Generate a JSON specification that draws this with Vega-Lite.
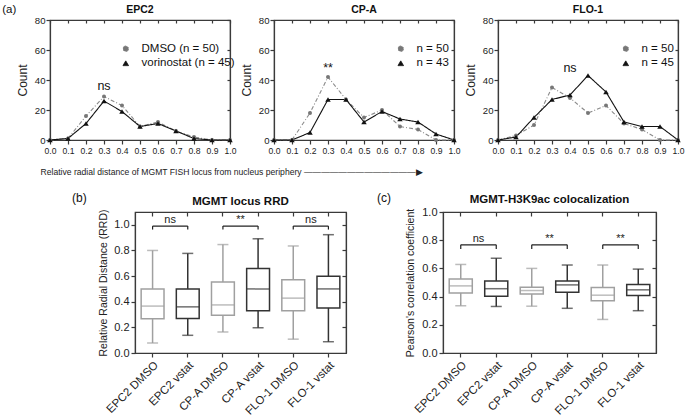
{
  "$schema": "https://vega.github.io/schema/vega-lite/v6.json",
  "padding": {"left": 2, "top": 3, "right": 2, "bottom": 2},
  "config": {
    "font": "Liberation Sans",
    "view": {"stroke": "#3a3a3a", "strokeWidth": 1.2},
    "axis": {"grid": false, "domainColor": "#3a3a3a", "domainWidth": 1.2, "tickColor": "#3a3a3a", "tickWidth": 1.2, "tickSize": 4, "labelColor": "#222", "titleColor": "#222", "titleFontWeight": "normal", "labelOverlap": false},
    "legend": {"title": null, "orient": "none", "legendY": 23, "labelFontSize": 11.5, "labelColor": "#111", "labelOffset": 10, "rowPadding": 1.5, "padding": 0, "symbolStrokeWidth": 1, "symbolSize": 30},
    "title": {"fontWeight": "bold", "color": "#111"}
  },
  "datasets": {
    "hist": [
      {"cell": "EPC2", "series": "DMSO (n = 50)", "x": 0.0, "count": 0},
      {"cell": "EPC2", "series": "DMSO (n = 50)", "x": 0.1, "count": 1},
      {"cell": "EPC2", "series": "DMSO (n = 50)", "x": 0.2, "count": 16},
      {"cell": "EPC2", "series": "DMSO (n = 50)", "x": 0.3, "count": 29},
      {"cell": "EPC2", "series": "DMSO (n = 50)", "x": 0.4, "count": 23},
      {"cell": "EPC2", "series": "DMSO (n = 50)", "x": 0.5, "count": 9},
      {"cell": "EPC2", "series": "DMSO (n = 50)", "x": 0.6, "count": 12},
      {"cell": "EPC2", "series": "DMSO (n = 50)", "x": 0.7, "count": 6},
      {"cell": "EPC2", "series": "DMSO (n = 50)", "x": 0.8, "count": 2},
      {"cell": "EPC2", "series": "DMSO (n = 50)", "x": 0.9, "count": 0},
      {"cell": "EPC2", "series": "DMSO (n = 50)", "x": 1.0, "count": 0},
      {"cell": "EPC2", "series": "vorinostat (n = 45)", "x": 0.0, "count": 0},
      {"cell": "EPC2", "series": "vorinostat (n = 45)", "x": 0.1, "count": 1},
      {"cell": "EPC2", "series": "vorinostat (n = 45)", "x": 0.2, "count": 11},
      {"cell": "EPC2", "series": "vorinostat (n = 45)", "x": 0.3, "count": 26},
      {"cell": "EPC2", "series": "vorinostat (n = 45)", "x": 0.4, "count": 19},
      {"cell": "EPC2", "series": "vorinostat (n = 45)", "x": 0.5, "count": 9},
      {"cell": "EPC2", "series": "vorinostat (n = 45)", "x": 0.6, "count": 11},
      {"cell": "EPC2", "series": "vorinostat (n = 45)", "x": 0.7, "count": 6},
      {"cell": "EPC2", "series": "vorinostat (n = 45)", "x": 0.8, "count": 1},
      {"cell": "EPC2", "series": "vorinostat (n = 45)", "x": 0.9, "count": 0},
      {"cell": "EPC2", "series": "vorinostat (n = 45)", "x": 1.0, "count": 0},
      {"cell": "CP-A", "series": "n = 50", "x": 0.0, "count": 0},
      {"cell": "CP-A", "series": "n = 50", "x": 0.1, "count": 0},
      {"cell": "CP-A", "series": "n = 50", "x": 0.2, "count": 18},
      {"cell": "CP-A", "series": "n = 50", "x": 0.3, "count": 42},
      {"cell": "CP-A", "series": "n = 50", "x": 0.4, "count": 27},
      {"cell": "CP-A", "series": "n = 50", "x": 0.5, "count": 15},
      {"cell": "CP-A", "series": "n = 50", "x": 0.6, "count": 20},
      {"cell": "CP-A", "series": "n = 50", "x": 0.7, "count": 9},
      {"cell": "CP-A", "series": "n = 50", "x": 0.8, "count": 7},
      {"cell": "CP-A", "series": "n = 50", "x": 0.9, "count": 0},
      {"cell": "CP-A", "series": "n = 50", "x": 1.0, "count": 0},
      {"cell": "CP-A", "series": "n = 43", "x": 0.0, "count": 0},
      {"cell": "CP-A", "series": "n = 43", "x": 0.1, "count": 0},
      {"cell": "CP-A", "series": "n = 43", "x": 0.2, "count": 5},
      {"cell": "CP-A", "series": "n = 43", "x": 0.3, "count": 27},
      {"cell": "CP-A", "series": "n = 43", "x": 0.4, "count": 27},
      {"cell": "CP-A", "series": "n = 43", "x": 0.5, "count": 12},
      {"cell": "CP-A", "series": "n = 43", "x": 0.6, "count": 19},
      {"cell": "CP-A", "series": "n = 43", "x": 0.7, "count": 14},
      {"cell": "CP-A", "series": "n = 43", "x": 0.8, "count": 12},
      {"cell": "CP-A", "series": "n = 43", "x": 0.9, "count": 4},
      {"cell": "CP-A", "series": "n = 43", "x": 1.0, "count": 0},
      {"cell": "FLO-1", "series": "n = 50", "x": 0.0, "count": 0},
      {"cell": "FLO-1", "series": "n = 50", "x": 0.1, "count": 3},
      {"cell": "FLO-1", "series": "n = 50", "x": 0.2, "count": 10},
      {"cell": "FLO-1", "series": "n = 50", "x": 0.3, "count": 35},
      {"cell": "FLO-1", "series": "n = 50", "x": 0.4, "count": 28},
      {"cell": "FLO-1", "series": "n = 50", "x": 0.5, "count": 18},
      {"cell": "FLO-1", "series": "n = 50", "x": 0.6, "count": 23},
      {"cell": "FLO-1", "series": "n = 50", "x": 0.7, "count": 11},
      {"cell": "FLO-1", "series": "n = 50", "x": 0.8, "count": 7},
      {"cell": "FLO-1", "series": "n = 50", "x": 0.9, "count": 0},
      {"cell": "FLO-1", "series": "n = 50", "x": 1.0, "count": 0},
      {"cell": "FLO-1", "series": "n = 45", "x": 0.0, "count": 0},
      {"cell": "FLO-1", "series": "n = 45", "x": 0.1, "count": 2},
      {"cell": "FLO-1", "series": "n = 45", "x": 0.2, "count": 15},
      {"cell": "FLO-1", "series": "n = 45", "x": 0.3, "count": 27},
      {"cell": "FLO-1", "series": "n = 45", "x": 0.4, "count": 30},
      {"cell": "FLO-1", "series": "n = 45", "x": 0.5, "count": 43},
      {"cell": "FLO-1", "series": "n = 45", "x": 0.6, "count": 32},
      {"cell": "FLO-1", "series": "n = 45", "x": 0.7, "count": 12},
      {"cell": "FLO-1", "series": "n = 45", "x": 0.8, "count": 9},
      {"cell": "FLO-1", "series": "n = 45", "x": 0.9, "count": 9},
      {"cell": "FLO-1", "series": "n = 45", "x": 1.0, "count": 0}
    ],
    "notes": [
      {"cell": "EPC2", "x": 0.3, "y": 36, "label": "ns"},
      {"cell": "CP-A", "x": 0.3, "y": 48, "label": "**"},
      {"cell": "FLO-1", "x": 0.4, "y": 48, "label": "ns"}
    ],
    "rrd": [
      {"group": "EPC2 DMSO", "type": "DMSO", "min": 0.078, "q1": 0.268, "median": 0.366, "q3": 0.5, "max": 0.8},
      {"group": "EPC2 vstat", "type": "vstat", "min": 0.138, "q1": 0.27, "median": 0.36, "q3": 0.5, "max": 0.777},
      {"group": "CP-A DMSO", "type": "DMSO", "min": 0.164, "q1": 0.295, "median": 0.375, "q3": 0.553, "max": 0.846},
      {"group": "CP-A vstat", "type": "vstat", "min": 0.197, "q1": 0.33, "median": 0.5, "q3": 0.659, "max": 0.891},
      {"group": "FLO-1 DMSO", "type": "DMSO", "min": 0.108, "q1": 0.33, "median": 0.428, "q3": 0.571, "max": 0.835},
      {"group": "FLO-1 vstat", "type": "vstat", "min": 0.088, "q1": 0.352, "median": 0.5, "q3": 0.598, "max": 0.923}
    ],
    "pcc": [
      {"group": "EPC2 DMSO", "type": "DMSO", "min": 0.335, "q1": 0.426, "median": 0.476, "q3": 0.525, "max": 0.628},
      {"group": "EPC2 vstat", "type": "vstat", "min": 0.33, "q1": 0.402, "median": 0.456, "q3": 0.51, "max": 0.672},
      {"group": "CP-A DMSO", "type": "DMSO", "min": 0.332, "q1": 0.419, "median": 0.443, "q3": 0.467, "max": 0.6},
      {"group": "CP-A vstat", "type": "vstat", "min": 0.317, "q1": 0.431, "median": 0.483, "q3": 0.51, "max": 0.624},
      {"group": "FLO-1 DMSO", "type": "DMSO", "min": 0.238, "q1": 0.371, "median": 0.41, "q3": 0.464, "max": 0.624},
      {"group": "FLO-1 vstat", "type": "vstat", "min": 0.3, "q1": 0.407, "median": 0.448, "q3": 0.486, "max": 0.595}
    ],
    "brk": [
      {"panel": "rrd", "g1": "EPC2 DMSO", "g2": "EPC2 vstat", "label": "ns"},
      {"panel": "rrd", "g1": "CP-A DMSO", "g2": "CP-A vstat", "label": "**"},
      {"panel": "rrd", "g1": "FLO-1 DMSO", "g2": "FLO-1 vstat", "label": "ns"},
      {"panel": "pcc", "g1": "EPC2 DMSO", "g2": "EPC2 vstat", "label": "ns"},
      {"panel": "pcc", "g1": "CP-A DMSO", "g2": "CP-A vstat", "label": "**"},
      {"panel": "pcc", "g1": "FLO-1 DMSO", "g2": "FLO-1 vstat", "label": "**"}
    ]
  },
  "vconcat": [
    {
      "hconcat": [
        {
          "width": 2, "height": 120,
          "view": {"stroke": null},
          "title": {"text": "(a)", "anchor": "start", "fontWeight": "normal", "fontSize": 11.5, "offset": 5},
          "data": {"values": [{}]},
          "mark": {"type": "point", "opacity": 0}
        },
        {
          "width": 180, "height": 120,
          "title": {"text": "EPC2", "fontSize": 10.5, "offset": 0},
          "resolve": {"axis": {"x": "independent", "y": "independent"}},
          "layer": [
            {
              "data": {"name": "hist"},
              "transform": [{"filter": "datum.cell === 'EPC2'"}],
              "mark": {"type": "line", "strokeWidth": 1.1},
              "encoding": {
                "x": {"field": "x", "type": "quantitative", "scale": {"domain": [0, 1], "nice": false, "zero": false},
                  "axis": {"values": [0, 0.1, 0.2, 0.3, 0.4, 0.5, 0.6, 0.7, 0.8, 0.9, 1], "format": ".1f", "labelFontSize": 8.6, "labelPadding": 2, "labelFlush": false,
                    "title": "Relative radial distance of MGMT FISH locus from nucleus periphery —————————————▶", "titleFontSize": 8.6, "titleAnchor": "start", "titleAlign": "left", "titleX": -10, "titlePadding": 13}},
                "y": {"field": "count", "type": "quantitative", "scale": {"domain": [0, 80]},
                  "axis": {"values": [0, 20, 40, 60, 80], "title": "Count", "titleFontSize": 12, "labelFontSize": 9.6, "labelPadding": 1, "titlePadding": 5}},
                "stroke": {"field": "series", "type": "nominal", "scale": {"domain": ["DMSO (n = 50)", "vorinostat (n = 45)"], "range": ["#8a8a8a", "#111111"]}, "legend": {"legendX": 70}},
                "strokeDash": {"field": "series", "type": "nominal", "scale": {"domain": ["DMSO (n = 50)", "vorinostat (n = 45)"], "range": [[4, 2, 1, 2], [1, 0]]}, "legend": {"legendX": 70}}
              }
            },
            {
              "data": {"name": "hist"},
              "transform": [{"filter": "datum.cell === 'EPC2'"}],
              "mark": {"type": "point", "filled": true, "opacity": 1},
              "encoding": {
                "x": {"field": "x", "type": "quantitative", "axis": {"orient": "top", "labels": false, "title": null, "tickSize": -3, "values": [0, 0.1, 0.2, 0.3, 0.4, 0.5, 0.6, 0.7, 0.8, 0.9, 1]}},
                "y": {"field": "count", "type": "quantitative", "axis": {"orient": "right", "labels": false, "title": null, "tickSize": -3, "values": [0, 20, 40, 60, 80]}},
                "color": {"field": "series", "type": "nominal", "scale": {"domain": ["DMSO (n = 50)", "vorinostat (n = 45)"], "range": ["#777777", "#111111"]}, "legend": {"legendX": 70}},
                "shape": {"field": "series", "type": "nominal", "scale": {"domain": ["DMSO (n = 50)", "vorinostat (n = 45)"], "range": ["circle", "triangle-up"]}, "legend": {"legendX": 70}},
                "size": {"condition": {"test": "indexof(datum.series, 'n = 50') >= 0", "value": 16}, "value": 30}
              }
            },
            {
              "data": {"name": "notes"},
              "transform": [{"filter": "datum.cell === 'EPC2'"}],
              "mark": {"type": "text", "fontSize": 12.5, "baseline": "middle", "color": "#111"},
              "encoding": {
                "x": {"field": "x", "type": "quantitative", "axis": null},
                "y": {"field": "y", "type": "quantitative", "axis": null},
                "text": {"field": "label"}
              }
            }
          ]
        },
        {
          "width": 180, "height": 120,
          "title": {"text": "CP-A", "fontSize": 10.5, "offset": 0},
          "resolve": {"axis": {"x": "independent", "y": "independent"}},
          "layer": [
            {
              "data": {"name": "hist"},
              "transform": [{"filter": "datum.cell === 'CP-A'"}],
              "mark": {"type": "line", "strokeWidth": 1.1},
              "encoding": {
                "x": {"field": "x", "type": "quantitative", "scale": {"domain": [0, 1], "nice": false, "zero": false},
                  "axis": {"values": [0, 0.1, 0.2, 0.3, 0.4, 0.5, 0.6, 0.7, 0.8, 0.9, 1], "format": ".1f", "labelFontSize": 8.6, "labelPadding": 2, "labelFlush": false, "title": null}},
                "y": {"field": "count", "type": "quantitative", "scale": {"domain": [0, 80]},
                  "axis": {"values": [0, 20, 40, 60, 80], "title": "Count", "titleFontSize": 12, "labelFontSize": 9.6, "labelPadding": 1, "titlePadding": 5}},
                "stroke": {"field": "series", "type": "nominal", "scale": {"domain": ["n = 50", "n = 43"], "range": ["#8a8a8a", "#111111"]}, "legend": {"legendX": 121}},
                "strokeDash": {"field": "series", "type": "nominal", "scale": {"domain": ["n = 50", "n = 43"], "range": [[4, 2, 1, 2], [1, 0]]}, "legend": {"legendX": 121}}
              }
            },
            {
              "data": {"name": "hist"},
              "transform": [{"filter": "datum.cell === 'CP-A'"}],
              "mark": {"type": "point", "filled": true, "opacity": 1},
              "encoding": {
                "x": {"field": "x", "type": "quantitative", "axis": {"orient": "top", "labels": false, "title": null, "tickSize": -3, "values": [0, 0.1, 0.2, 0.3, 0.4, 0.5, 0.6, 0.7, 0.8, 0.9, 1]}},
                "y": {"field": "count", "type": "quantitative", "axis": {"orient": "right", "labels": false, "title": null, "tickSize": -3, "values": [0, 20, 40, 60, 80]}},
                "color": {"field": "series", "type": "nominal", "scale": {"domain": ["n = 50", "n = 43"], "range": ["#777777", "#111111"]}, "legend": {"legendX": 121}},
                "shape": {"field": "series", "type": "nominal", "scale": {"domain": ["n = 50", "n = 43"], "range": ["circle", "triangle-up"]}, "legend": {"legendX": 121}},
                "size": {"condition": {"test": "indexof(datum.series, 'n = 50') >= 0", "value": 16}, "value": 30}
              }
            },
            {
              "data": {"name": "notes"},
              "transform": [{"filter": "datum.cell === 'CP-A'"}],
              "mark": {"type": "text", "fontSize": 12.5, "baseline": "middle", "color": "#111"},
              "encoding": {
                "x": {"field": "x", "type": "quantitative", "axis": null},
                "y": {"field": "y", "type": "quantitative", "axis": null},
                "text": {"field": "label"}
              }
            }
          ]
        },
        {
          "width": 180, "height": 120,
          "title": {"text": "FLO-1", "fontSize": 10.5, "offset": 0},
          "resolve": {"axis": {"x": "independent", "y": "independent"}},
          "layer": [
            {
              "data": {"name": "hist"},
              "transform": [{"filter": "datum.cell === 'FLO-1'"}],
              "mark": {"type": "line", "strokeWidth": 1.1},
              "encoding": {
                "x": {"field": "x", "type": "quantitative", "scale": {"domain": [0, 1], "nice": false, "zero": false},
                  "axis": {"values": [0, 0.1, 0.2, 0.3, 0.4, 0.5, 0.6, 0.7, 0.8, 0.9, 1], "format": ".1f", "labelFontSize": 8.6, "labelPadding": 2, "labelFlush": false, "title": null}},
                "y": {"field": "count", "type": "quantitative", "scale": {"domain": [0, 80]},
                  "axis": {"values": [0, 20, 40, 60, 80], "title": "Count", "titleFontSize": 12, "labelFontSize": 9.6, "labelPadding": 1, "titlePadding": 5}},
                "stroke": {"field": "series", "type": "nominal", "scale": {"domain": ["n = 50", "n = 45"], "range": ["#8a8a8a", "#111111"]}, "legend": {"legendX": 122}},
                "strokeDash": {"field": "series", "type": "nominal", "scale": {"domain": ["n = 50", "n = 45"], "range": [[4, 2, 1, 2], [1, 0]]}, "legend": {"legendX": 122}}
              }
            },
            {
              "data": {"name": "hist"},
              "transform": [{"filter": "datum.cell === 'FLO-1'"}],
              "mark": {"type": "point", "filled": true, "opacity": 1},
              "encoding": {
                "x": {"field": "x", "type": "quantitative", "axis": {"orient": "top", "labels": false, "title": null, "tickSize": -3, "values": [0, 0.1, 0.2, 0.3, 0.4, 0.5, 0.6, 0.7, 0.8, 0.9, 1]}},
                "y": {"field": "count", "type": "quantitative", "axis": {"orient": "right", "labels": false, "title": null, "tickSize": -3, "values": [0, 20, 40, 60, 80]}},
                "color": {"field": "series", "type": "nominal", "scale": {"domain": ["n = 50", "n = 45"], "range": ["#777777", "#111111"]}, "legend": {"legendX": 122}},
                "shape": {"field": "series", "type": "nominal", "scale": {"domain": ["n = 50", "n = 45"], "range": ["circle", "triangle-up"]}, "legend": {"legendX": 122}},
                "size": {"condition": {"test": "indexof(datum.series, 'n = 50') >= 0", "value": 16}, "value": 30}
              }
            },
            {
              "data": {"name": "notes"},
              "transform": [{"filter": "datum.cell === 'FLO-1'"}],
              "mark": {"type": "text", "fontSize": 12.5, "baseline": "middle", "color": "#111"},
              "encoding": {
                "x": {"field": "x", "type": "quantitative", "axis": null},
                "y": {"field": "y", "type": "quantitative", "axis": null},
                "text": {"field": "label"}
              }
            }
          ]
        }
      ],
      "spacing": 44,
      "bounds": "flush",
      "resolve": {
        "scale": {"color": "independent", "shape": "independent", "stroke": "independent", "strokeDash": "independent"},
        "legend": {"color": "independent", "shape": "independent", "stroke": "independent", "strokeDash": "independent"}
      }
    },
    {
      "hconcat": [
        {
          "width": 100, "height": 141,
          "view": {"stroke": null},
          "title": {"text": "(b)", "anchor": "start", "dx": 68, "fontWeight": "normal", "fontSize": 12, "offset": 7},
          "data": {"values": [{}]},
          "mark": {"type": "point", "opacity": 0}
        },
        {
          "width": 211, "height": 141,
          "title": {"text": "MGMT locus RRD", "fontSize": 11.5, "offset": 1},
          "resolve": {"axis": {"x": "independent", "y": "independent"}},
          "layer": [
            {
              "data": {"name": "rrd"},
              "mark": {"type": "rule", "strokeWidth": 1.5},
              "encoding": {
                "x": {"field": "group", "type": "nominal", "scale": {"domain": ["EPC2 DMSO", "EPC2 vstat", "CP-A DMSO", "CP-A vstat", "FLO-1 DMSO", "FLO-1 vstat"], "paddingInner": 0, "paddingOuter": 0},
                  "axis": {"labelAngle": -45, "labelFontSize": 11.5, "title": null, "labelPadding": 2}},
                "y": {"field": "min", "type": "quantitative", "scale": {"domain": [0, 1.1], "nice": false},
                  "axis": {"values": [0, 0.2, 0.4, 0.6, 0.8, 1.0], "format": ".1f", "labelFontSize": 11, "title": "Relative Radial Distance (RRD)", "titleFontSize": 10.5, "titlePadding": 5, "labelPadding": 2}},
                "y2": {"field": "max"},
                "color": {"condition": {"test": "datum.type === 'DMSO'", "value": "#a0a0a0"}, "value": "#333333"}
              }
            },
            {
              "data": {"name": "rrd"},
              "mark": {"type": "bar", "fill": "white", "strokeWidth": 1.5, "width": {"band": 0.65}},
              "encoding": {
                "x": {"field": "group", "type": "nominal", "axis": {"orient": "top", "labels": false, "title": null, "tickSize": -4}},
                "y": {"field": "q1", "type": "quantitative", "axis": {"orient": "right", "labels": false, "title": null, "tickSize": -4, "values": [0.2, 0.4, 0.6, 0.8, 1.0]}},
                "y2": {"field": "q3"},
                "stroke": {"condition": {"test": "datum.type === 'DMSO'", "value": "#a0a0a0"}, "value": "#333333"}
              }
            },
            {
              "data": {"name": "rrd"},
              "mark": {"type": "tick", "thickness": 1.5, "size": 23},
              "encoding": {
                "x": {"field": "group", "type": "nominal", "axis": null},
                "y": {"field": "median", "type": "quantitative", "axis": null},
                "color": {"condition": {"test": "datum.type === 'DMSO'", "value": "#a0a0a0"}, "value": "#333333"}
              }
            },
            {
              "data": {"name": "rrd"},
              "mark": {"type": "tick", "thickness": 1.5, "size": 11},
              "encoding": {
                "x": {"field": "group", "type": "nominal", "axis": null},
                "y": {"field": "min", "type": "quantitative", "axis": null},
                "color": {"condition": {"test": "datum.type === 'DMSO'", "value": "#a0a0a0"}, "value": "#333333"}
              }
            },
            {
              "data": {"name": "rrd"},
              "mark": {"type": "tick", "thickness": 1.5, "size": 11},
              "encoding": {
                "x": {"field": "group", "type": "nominal", "axis": null},
                "y": {"field": "max", "type": "quantitative", "axis": null},
                "color": {"condition": {"test": "datum.type === 'DMSO'", "value": "#a0a0a0"}, "value": "#333333"}
              }
            },
            {
              "data": {"name": "brk"},
              "transform": [{"filter": "datum.panel === 'rrd'"}],
              "mark": {"type": "rule", "strokeWidth": 1.2, "color": "#222"},
              "encoding": {
                "x": {"field": "g1", "type": "nominal", "axis": null},
                "x2": {"field": "g2"},
                "y": {"datum": 0.99, "type": "quantitative", "axis": null}
              }
            },
            {
              "data": {"name": "brk"},
              "transform": [{"filter": "datum.panel === 'rrd'"}],
              "mark": {"type": "rule", "strokeWidth": 1.2, "color": "#222"},
              "encoding": {
                "x": {"field": "g1", "type": "nominal", "axis": null},
                "y": {"datum": 0.99, "type": "quantitative", "axis": null},
                "y2": {"datum": 0.963}
              }
            },
            {
              "data": {"name": "brk"},
              "transform": [{"filter": "datum.panel === 'rrd'"}],
              "mark": {"type": "rule", "strokeWidth": 1.2, "color": "#222"},
              "encoding": {
                "x": {"field": "g2", "type": "nominal", "axis": null},
                "y": {"datum": 0.99, "type": "quantitative", "axis": null},
                "y2": {"datum": 0.963}
              }
            },
            {
              "data": {"name": "brk"},
              "transform": [{"filter": "datum.panel === 'rrd'"}],
              "mark": {"type": "text", "fontSize": 11, "baseline": "bottom", "dx": 17.6, "dy": -1, "color": "#222"},
              "encoding": {
                "x": {"field": "g1", "type": "nominal", "axis": null},
                "y": {"datum": 0.99, "type": "quantitative", "axis": null},
                "text": {"field": "label"}
              }
            }
          ]
        },
        {
          "width": 35, "height": 141,
          "view": {"stroke": null},
          "title": {"text": "(c)", "anchor": "start", "fontWeight": "normal", "fontSize": 12, "offset": 7},
          "data": {"values": [{}]},
          "mark": {"type": "point", "opacity": 0}
        },
        {
          "width": 213, "height": 141,
          "title": {"text": "MGMT-H3K9ac colocalization", "fontSize": 11.5, "offset": 1},
          "resolve": {"axis": {"x": "independent", "y": "independent"}},
          "layer": [
            {
              "data": {"name": "pcc"},
              "mark": {"type": "rule", "strokeWidth": 1.5},
              "encoding": {
                "x": {"field": "group", "type": "nominal", "scale": {"domain": ["EPC2 DMSO", "EPC2 vstat", "CP-A DMSO", "CP-A vstat", "FLO-1 DMSO", "FLO-1 vstat"], "paddingInner": 0, "paddingOuter": 0},
                  "axis": {"labelAngle": -45, "labelFontSize": 11.5, "title": null, "labelPadding": 2}},
                "y": {"field": "min", "type": "quantitative", "scale": {"domain": [0, 1], "nice": false},
                  "axis": {"values": [0, 0.2, 0.4, 0.6, 0.8, 1.0], "format": ".1f", "labelFontSize": 11, "title": "Pearson's correlation coefficient", "titleFontSize": 10.5, "titlePadding": 6, "labelPadding": 2}},
                "y2": {"field": "max"},
                "color": {"condition": {"test": "datum.type === 'DMSO'", "value": "#a0a0a0"}, "value": "#333333"}
              }
            },
            {
              "data": {"name": "pcc"},
              "mark": {"type": "bar", "fill": "white", "strokeWidth": 1.5, "width": {"band": 0.65}},
              "encoding": {
                "x": {"field": "group", "type": "nominal", "axis": {"orient": "top", "labels": false, "title": null, "tickSize": -4}},
                "y": {"field": "q1", "type": "quantitative", "axis": {"orient": "right", "labels": false, "title": null, "tickSize": -4, "values": [0.2, 0.4, 0.6, 0.8]}},
                "y2": {"field": "q3"},
                "stroke": {"condition": {"test": "datum.type === 'DMSO'", "value": "#a0a0a0"}, "value": "#333333"}
              }
            },
            {
              "data": {"name": "pcc"},
              "mark": {"type": "tick", "thickness": 1.5, "size": 23},
              "encoding": {
                "x": {"field": "group", "type": "nominal", "axis": null},
                "y": {"field": "median", "type": "quantitative", "axis": null},
                "color": {"condition": {"test": "datum.type === 'DMSO'", "value": "#a0a0a0"}, "value": "#333333"}
              }
            },
            {
              "data": {"name": "pcc"},
              "mark": {"type": "tick", "thickness": 1.5, "size": 11},
              "encoding": {
                "x": {"field": "group", "type": "nominal", "axis": null},
                "y": {"field": "min", "type": "quantitative", "axis": null},
                "color": {"condition": {"test": "datum.type === 'DMSO'", "value": "#a0a0a0"}, "value": "#333333"}
              }
            },
            {
              "data": {"name": "pcc"},
              "mark": {"type": "tick", "thickness": 1.5, "size": 11},
              "encoding": {
                "x": {"field": "group", "type": "nominal", "axis": null},
                "y": {"field": "max", "type": "quantitative", "axis": null},
                "color": {"condition": {"test": "datum.type === 'DMSO'", "value": "#a0a0a0"}, "value": "#333333"}
              }
            },
            {
              "data": {"name": "brk"},
              "transform": [{"filter": "datum.panel === 'pcc'"}],
              "mark": {"type": "rule", "strokeWidth": 1.2, "color": "#222"},
              "encoding": {
                "x": {"field": "g1", "type": "nominal", "axis": null},
                "x2": {"field": "g2"},
                "y": {"datum": 0.767, "type": "quantitative", "axis": null}
              }
            },
            {
              "data": {"name": "brk"},
              "transform": [{"filter": "datum.panel === 'pcc'"}],
              "mark": {"type": "rule", "strokeWidth": 1.2, "color": "#222"},
              "encoding": {
                "x": {"field": "g1", "type": "nominal", "axis": null},
                "y": {"datum": 0.767, "type": "quantitative", "axis": null},
                "y2": {"datum": 0.738}
              }
            },
            {
              "data": {"name": "brk"},
              "transform": [{"filter": "datum.panel === 'pcc'"}],
              "mark": {"type": "rule", "strokeWidth": 1.2, "color": "#222"},
              "encoding": {
                "x": {"field": "g2", "type": "nominal", "axis": null},
                "y": {"datum": 0.767, "type": "quantitative", "axis": null},
                "y2": {"datum": 0.738}
              }
            },
            {
              "data": {"name": "brk"},
              "transform": [{"filter": "datum.panel === 'pcc'"}],
              "mark": {"type": "text", "fontSize": 11, "baseline": "bottom", "dx": 17.75, "dy": -1, "color": "#222"},
              "encoding": {
                "x": {"field": "g1", "type": "nominal", "axis": null},
                "y": {"datum": 0.767, "type": "quantitative", "axis": null},
                "text": {"field": "label"}
              }
            }
          ]
        }
      ],
      "spacing": 31,
      "bounds": "flush"
    }
  ],
  "spacing": 15,
  "bounds": "full",
  "resolve": {
    "scale": {"color": "independent", "shape": "independent", "stroke": "independent", "strokeDash": "independent"},
    "legend": {"color": "independent", "shape": "independent", "stroke": "independent", "strokeDash": "independent"}
  }
}
